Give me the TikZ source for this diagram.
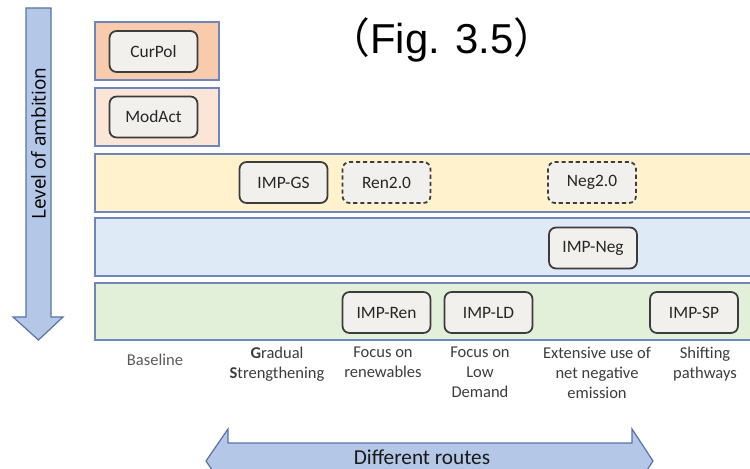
\documentclass[tikz,border=0pt]{standalone}
\usepackage{fontspec}
\setmainfont{Carlito}
\newfontfamily\headfont{Liberation Sans}
\newfontfamily\cjkfont{Noto Sans CJK SC}
\newfontfamily\axisfont{Open Sans}
\usetikzlibrary{positioning}
\definecolor{arrowblue}{RGB}{180,199,231}
\definecolor{arrowedge}{RGB}{90,115,170}
\definecolor{bandedge}{RGB}{112,134,186}
\definecolor{curpolfill}{RGB}{248,203,173}
\definecolor{modactfill}{RGB}{251,229,214}
\definecolor{gsfill}{RGB}{255,242,204}
\definecolor{negfill}{RGB}{222,235,247}
\definecolor{renfill}{RGB}{226,240,217}
\definecolor{scenfill}{RGB}{242,240,236}
\definecolor{scenedge}{RGB}{60,60,60}
\definecolor{labelgray}{RGB}{60,60,60}

\begin{document}
\begin{tikzpicture}[x=0.02cm,y=-0.02cm,
  band/.style={draw=bandedge,line width=0.8pt},
  scen/.style={draw=scenedge,fill=scenfill,rounded corners=4pt,line width=1pt,
    minimum width=1.76cm,minimum height=0.82cm,inner sep=0pt,
    font=\fontsize{9.9}{12}\selectfont,text=black!85},
  future/.style={scen,dash pattern=on 2.3pt off 1.7pt},
  route/.style={anchor=north,align=center,inner sep=0pt,text=labelgray,
    font=\fontsize{9.4}{11.3}\selectfont},
  bigarrow/.style={fill=arrowblue,draw=arrowedge,line width=0.7pt}]
  \clip (0,0) rectangle (750,469);

  % ambition axis
  \draw[bigarrow] (26,8) -- (51,8) -- (51,317) -- (63,317) -- (38.5,340)
    -- (13,317) -- (26,317) -- cycle;
  \node[rotate=90,font=\axisfont\fontsize{10.8}{12}\selectfont] (ambition) at (38.5,143.5) {Level of ambition};

  % levels
  \draw[band,fill=curpolfill] (95,22) rectangle (219,80);
  \draw[band,fill=modactfill] (95,88) rectangle (219,146);
  \draw[band,fill=gsfill] (95,154) rectangle (760,212);
  \draw[band,fill=negfill] (95,218) rectangle (760,276);
  \draw[band,fill=renfill] (95,283) rectangle (760,340);

  \node[font=\headfont\fontsize{23.8}{28}\selectfont] (title) at (442,40)
    {{\cjkfont （}Fig. 3.5{\cjkfont ）}};

  % scenarios
  \node[scen] (curpol) at (153.5,51.5) {CurPol};
  \node[scen] (modact) at (153.5,117) {ModAct};
  \node[scen] (gs) at (283.5,182.5) {IMP-GS};
  \node[future] (ren2) at (386.5,182.5) {Ren2.0};
  \node[future] (neg2) at (592,182.5) {Neg2.0};
  \node[scen] (neg) at (593,248) {IMP-Neg};
  \node[scen] (ren) at (386.5,312.5) {IMP-Ren};
  \node[scen] (ld) at (488.5,312.5) {IMP-LD};
  \node[scen] (sp) at (694,312.5) {IMP-SP};

  % route labels
  \node[route,anchor=center,text=black!65] (baseline) at (155,360) {Baseline};
  \node[route] (gslab) at (277,347) {\textbf{G}radual\\\textbf{S}trengthening};
  \node[route] (renlab) at (383,347) {Focus on\\renewables};
  \node[route] (ldlab) at (480,347) {Focus on\\Low\\Demand};
  \node[route] (neglab) at (597,347) {Extensive use of\\net negative\\emission};
  \node[route] (splab) at (705,347) {Shifting\\pathways};

  % routes axis
  \draw[bigarrow] (206,461) -- (228,429) -- (228,443) -- (632,443) -- (632,429)
    -- (653,461) -- (632,493) -- (632,479) -- (228,479) -- (228,493) -- cycle;
  \node[anchor=base,inner sep=0pt,font=\fontsize{12.1}{14}\selectfont,text=black!90] (routes) at (422,464.5) {Different routes};
\end{tikzpicture}
\end{document}
